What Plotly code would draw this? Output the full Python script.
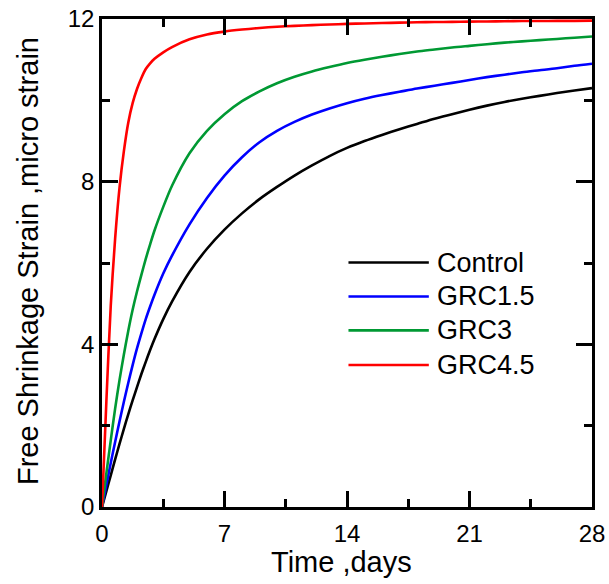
import plotly.graph_objects as go

days = [0, 0.25, 0.5, 0.75, 1, 1.25, 1.5, 1.75, 2, 2.25, 2.5, 2.75, 3, 3.5,
        4, 5, 6, 7, 8, 9, 10, 11, 12, 13, 14, 15, 16, 17, 18, 19, 20, 21,
        22, 23, 24, 25, 26, 27, 28]

control = [0, 0.39, 0.78, 1.17, 1.55, 1.92, 2.28, 2.62, 2.95, 3.27, 3.57,
           3.86, 4.13, 4.62, 5.05, 5.78, 6.35, 6.82, 7.22, 7.57, 7.87, 8.15,
           8.4, 8.63, 8.83, 9.0, 9.15, 9.29, 9.42, 9.55, 9.66, 9.77, 9.87,
           9.96, 10.04, 10.11, 10.18, 10.24, 10.3]
grc15 = [0, 0.55, 1.08, 1.6, 2.1, 2.59, 3.05, 3.49, 3.9, 4.27, 4.62, 4.93,
         5.22, 5.74, 6.18, 6.95, 7.6, 8.15, 8.6, 8.97, 9.25, 9.47, 9.65, 9.8,
         9.93, 10.04, 10.13, 10.21, 10.29, 10.36, 10.43, 10.5, 10.57, 10.63,
         10.69, 10.74, 10.79, 10.85, 10.9]
grc3 = [0, 0.83, 1.64, 2.42, 3.12, 3.75, 4.33, 4.85, 5.3, 5.71, 6.1, 6.46,
        6.8, 7.38, 7.9, 8.7, 9.25, 9.66, 9.98, 10.22, 10.42, 10.58, 10.71,
        10.82, 10.92, 11.0, 11.07, 11.14, 11.2, 11.25, 11.3, 11.34, 11.38,
        11.42, 11.45, 11.48, 11.51, 11.54, 11.57]
grc45 = [0, 2.6, 4.95, 6.6, 7.85, 8.75, 9.45, 9.93, 10.28, 10.55, 10.77,
         10.91, 11.02, 11.18, 11.31, 11.5, 11.62, 11.69, 11.74, 11.78, 11.81,
         11.83, 11.85, 11.865, 11.88, 11.89, 11.9, 11.91, 11.92, 11.925,
         11.93, 11.935, 11.94, 11.945, 11.95, 11.95, 11.955, 11.955, 11.96]

names = ["Control", "GRC1.5", "GRC3", "GRC4.5"]
series = [control, grc15, grc3, grc45]
colors = ["#000000", "#0000ff", "#009933", "#ff0000"]

x_ticks = [0, 7, 14, 21, 28]
y_ticks = [0, 4, 8, 12]
x_title = "Time ,days"
y_title = "Free Shrinkage Strain ,micro strain"

FONT = "Arial, Liberation Sans, sans-serif"

fig = go.Figure()
for name, vals, col in zip(names, series, colors):
    fig.add_trace(go.Scatter(x=days, y=vals, mode="lines", name=name,
                             line=dict(color=col, width=2.6, shape="spline",
                                       smoothing=0.8),
                             showlegend=False))

# manual legend (long line samples as in the reference)
leg_y = [0.501, 0.4315, 0.362, 0.291]
for name, col, yy in zip(names, colors, leg_y):
    fig.add_shape(type="line", xref="paper", yref="paper",
                  x0=0.503, x1=0.667, y0=yy, y1=yy,
                  line=dict(color=col, width=2.6))
    fig.add_annotation(xref="paper", yref="paper", x=0.68, y=yy,
                       text=name, showarrow=False, xanchor="left",
                       yanchor="middle",
                       font=dict(family=FONT, size=27, color="black"))

# axis titles
fig.add_annotation(xref="paper", yref="paper", x=0.489, y=-0.1136,
                   text=x_title, showarrow=False, xanchor="center",
                   yanchor="middle",
                   font=dict(family=FONT, size=29, color="black"))
fig.add_annotation(xref="paper", yref="paper", x=-0.1524, y=0.5046,
                   text=y_title, showarrow=False, xanchor="center",
                   yanchor="middle", textangle=-90,
                   font=dict(family=FONT, size=29, color="black"))

axis_common = dict(showline=True, linecolor="black", linewidth=2.5,
                   mirror="allticks", ticks="inside", ticklen=16,
                   tickwidth=2.5, tickcolor="black", showgrid=False,
                   zeroline=False, automargin=False,
                   tickfont=dict(family=FONT, size=24, color="black"))

fig.update_xaxes(range=[0, 28], tickvals=x_ticks,
                 ticktext=[str(v) for v in x_ticks],
                 ticklabelstandoff=3,
                 minor=dict(ticks="inside", ticklen=8, tickwidth=2.5,
                            tickcolor="black", dtick=3.5, tick0=0),
                 **axis_common)
fig.update_yaxes(range=[0, 12], tickvals=y_ticks,
                 ticktext=[str(v) for v in y_ticks],
                 minor=dict(ticks="inside", ticklen=8, tickwidth=2.5,
                            tickcolor="black", dtick=2, tick0=0),
                 **axis_common)

fig.update_layout(width=609, height=584,
                  margin=dict(l=102, r=17, t=19, b=77),
                  plot_bgcolor="white", paper_bgcolor="white",
                  showlegend=False)

fig.write_html("out.html")
